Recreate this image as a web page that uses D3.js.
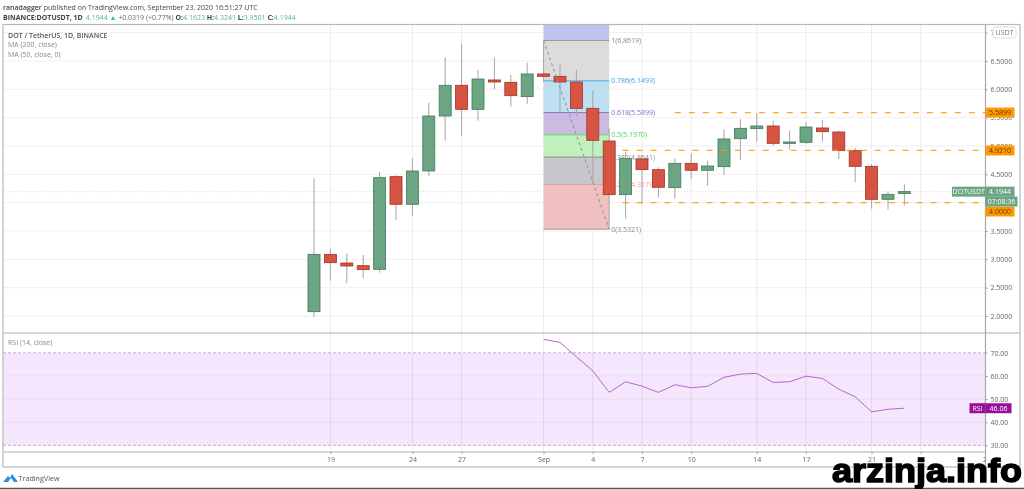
<!DOCTYPE html>
<html>
<head>
<meta charset="utf-8">
<script src="https://cdn.jsdelivr.net/npm/d3@7"></script>
<style>
html, body { margin: 0; padding: 0; background: #fff; }
svg { display: block; font-family: "Open Sans", sans-serif; }
</style>
</head>
<body>
<div id="chart"></div>
<script>
var dates = ['2020-08-18', '2020-08-19', '2020-08-20', '2020-08-21', '2020-08-22', '2020-08-23', '2020-08-24', '2020-08-25',
    '2020-08-26', '2020-08-27', '2020-08-28', '2020-08-29', '2020-08-30', '2020-08-31', '2020-09-01', '2020-09-02',
    '2020-09-03', '2020-09-04', '2020-09-05', '2020-09-06', '2020-09-07', '2020-09-08', '2020-09-09', '2020-09-10',
    '2020-09-11', '2020-09-12', '2020-09-13', '2020-09-14', '2020-09-15', '2020-09-16', '2020-09-17', '2020-09-18',
    '2020-09-19', '2020-09-20', '2020-09-21', '2020-09-22', '2020-09-23'];
var opens = [2.076, 3.088, 2.935, 2.888, 2.824, 4.459, 3.971, 4.559, 5.529, 6.071, 5.647, 6.165, 6.124, 5.871, 6.271, 6.229,
    6.129, 5.665, 5.088, 4.141, 4.771, 4.582, 4.265, 4.694, 4.571, 4.635, 5.129, 5.306, 5.353, 5.047, 5.065, 5.318,
    5.247, 4.918, 4.641, 4.059, 4.1623];
var highs = [4.429, 3.194, 3.106, 3.076, 4.547, 4.482, 4.782, 5.765, 6.565, 6.800, 6.341, 6.559, 6.253, 6.471, 6.8619, 6.441,
    6.341, 5.988, 5.312, 4.900, 4.840, 4.624, 4.782, 4.871, 4.741, 5.294, 5.470, 5.576, 5.441, 5.270, 5.418, 5.459,
    5.270, 4.965, 4.682, 4.200, 4.3241];
var lows = [1.988, 2.624, 2.576, 2.665, 2.765, 3.694, 3.765, 4.471, 5.094, 5.182, 5.447, 6.000, 5.694, 5.741, 6.130, 5.576,
    5.529, 4.340, 3.5321, 3.724, 3.988, 4.094, 4.071, 4.418, 4.300, 4.488, 4.753, 5.076, 5.006, 4.940, 5.035, 5.076,
    4.770, 4.359, 3.894, 3.882, 3.9501];
var closes = [3.088, 2.941, 2.882, 2.818, 4.441, 3.971, 4.559, 5.529, 6.071, 5.647, 6.182, 6.129, 5.888, 6.271, 6.229, 6.129,
    5.665, 5.100, 4.141, 4.776, 4.582, 4.271, 4.694, 4.571, 4.647, 5.124, 5.312, 5.353, 5.047, 5.071, 5.335, 5.253,
    4.918, 4.641, 4.059, 4.147, 4.1944];

var rsiDates = dates.slice(14);
var rsiValues = [75.8, 74.5, 68.3, 62.2, 52.9, 57.5, 55.6, 52.9, 56.2, 54.9, 55.5, 59.4, 60.8, 61.1, 57.2, 57.5, 59.9, 58.9,
    54.3, 51.0, 44.5, 45.6, 46.06];

var timeTickDates = ['2020-08-19', '2020-08-24', '2020-08-27', '2020-09-01', '2020-09-04', '2020-09-07', '2020-09-10',
    '2020-09-14', '2020-09-17', '2020-09-21', '2020-09-24', '2020-09-28'];
var timeTickLabels = ['19', '24', '27', 'Sep', '4', '7', '10', '14', '17', '21', '24', '28'];
var priceTicks = [2, 2.5, 3, 3.5, 4, 4.5, 5, 5.5, 6, 6.5, 7];
var rsiTicks = [30, 40, 50, 60, 70];

var fibRatios = ['1', '0.786', '0.618', '0.5', '0.382', '0.236', '0'];
var fibPrices = [6.8619, 6.1493, 5.5899, 5.1970, 4.8041, 4.3179, 3.5321];
var fibLineColors = ['#9a9a9a', '#4aa8e0', '#8f72c9', '#5fd35f', '#8a8a8a', '#e59a9a', '#9a9a9a'];
var fibFills = ['#dcdcdc', '#bfdff2', '#cbbbe0', '#c0f0bc', '#c8c8cc', '#f0c0c0'];
var fibTextColors = ['#888', '#3f9fd8', '#8a6cc4', '#55d155', '#888', '#ef9a9a', '#888'];

var levelPrices = [5.5899, 4.9210, 4.0000];
var levelStarts = ['2020-09-09', '2020-09-06', '2020-09-06'];

var width = 1024, height = 489;
var paneLeft = 3, paneRight = 985.5, outer = 1020, paneTop = 24.5, sep = 333, rsiBottom = 452, paneBottom = 467;
var green = '#6ba583', greenDark = '#3f7a58', red = '#d75442', redDark = '#a03425';
var orange = '#ff9800';
var parse = d3.utcParse('%Y-%m-%d');

var x = d3.scaleUtc().domain([parse(dates[0]), parse(dates[dates.length - 1])]).range([314, 904.4]);
var y = d3.scaleLinear().domain([2, 7]).range([316, 32.65]);
var yRsi = d3.scaleLinear().domain([30, 70]).range([445.4, 352.8]);

var page = d3.select('#chart').append('svg').attr('width', width).attr('height', height);
// the reference is a soft, resampled screenshot
var svg = page.append('g').style('filter', 'blur(0.35px)');
var defs = svg.append('defs');
defs.append('clipPath').attr('id', 'main').append('rect')
    .attr('x', paneLeft).attr('y', paneTop).attr('width', paneRight - paneLeft).attr('height', sep - paneTop);
defs.append('clipPath').attr('id', 'rsi').append('rect')
    .attr('x', paneLeft).attr('y', sep).attr('width', paneRight - paneLeft).attr('height', rsiBottom - sep);
defs.append('clipPath').attr('id', 'time').append('rect')
    .attr('x', paneLeft).attr('y', rsiBottom).attr('width', paneRight - paneLeft).attr('height', paneBottom - rsiBottom);

// header
var head = svg.append('g').attr('font-size', 7).attr('fill', '#444');
var line1 = head.append('text').attr('x', 3).attr('y', 9.5);
line1.append('tspan').attr('font-weight', 600).text('ranadagger');
line1.append('tspan').text(' published on TradingView.com, September 23, 2020 16:51:27 UTC');
var line2 = head.append('text').attr('x', 3).attr('y', 19.5);
line2.append('tspan').attr('font-weight', 700).text('BINANCE:DOTUSDT, 1D');
line2.append('tspan').attr('dx', 3).attr('fill', '#53b987').text('4.1944 \u25B2 ');
line2.append('tspan').attr('fill', '#666').text('+0.0319 (+0.77%) ');
[['O:', '4.1623'], ['H:', '4.3241'], ['L:', '3.9501'], ['C:', '4.1944']].forEach(function (p) {
    line2.append('tspan').attr('font-weight', 700).text(p[0]);
    line2.append('tspan').attr('fill', '#53b987').text(p[1] + ' ');
});

// main pane
var main = svg.append('g').attr('clip-path', 'url(#main)');

main.append('g').selectAll('line').data(priceTicks).join('line')
    .attr('x1', paneLeft).attr('x2', paneRight)
    .attr('y1', function (d) { return y(d); }).attr('y2', function (d) { return y(d); })
    .attr('stroke', '#efefef');
main.append('g').selectAll('line').data(timeTickDates).join('line')
    .attr('x1', function (d) { return x(parse(d)); }).attr('x2', function (d) { return x(parse(d)); })
    .attr('y1', paneTop).attr('y2', sep)
    .attr('stroke', '#ececec');

// fib retracement
var fibX0 = x(parse('2020-09-01')), fibX1 = x(parse('2020-09-05'));
var fib = main.append('g');
fib.append('rect')
    .attr('x', fibX0).attr('y', paneTop).attr('width', fibX1 - fibX0).attr('height', y(fibPrices[0]) - paneTop)
    .attr('fill', '#c4c2ef');
fib.selectAll('rect.zone').data(fibFills).join('rect')
    .attr('class', 'zone')
    .attr('x', fibX0).attr('width', fibX1 - fibX0)
    .attr('y', function (d, i) { return y(fibPrices[i]); })
    .attr('height', function (d, i) { return y(fibPrices[i + 1]) - y(fibPrices[i]); })
    .attr('fill', function (d) { return d; });
fib.selectAll('line').data(fibPrices).join('line')
    .attr('x1', fibX0).attr('x2', fibX1)
    .attr('y1', function (d) { return y(d); }).attr('y2', function (d) { return y(d); })
    .attr('stroke', function (d, i) { return fibLineColors[i]; });
fib.selectAll('text').data(fibPrices).join('text')
    .attr('x', fibX1 + 2).attr('y', function (d) { return y(d) + 2.5; })
    .attr('font-size', 7)
    .attr('fill', function (d, i) { return fibTextColors[i]; })
    .text(function (d, i) { return fibRatios[i] + '(' + d.toFixed(4) + ')'; });

// last price dotted line
main.append('line')
    .attr('x1', paneLeft).attr('x2', paneRight)
    .attr('y1', y(closes[closes.length - 1])).attr('y2', y(closes[closes.length - 1]))
    .attr('stroke', '#d5e0da').attr('stroke-dasharray', '1,2');

// candles
var candles = main.append('g').selectAll('g').data(dates).join('g');
candles.append('line')
    .attr('x1', function (d) { return x(parse(d)); }).attr('x2', function (d) { return x(parse(d)); })
    .attr('y1', function (d, i) { return y(highs[i]); }).attr('y2', function (d, i) { return y(lows[i]); })
    .attr('stroke', '#a6a6a6').attr('stroke-width', 1);
candles.append('rect')
    .attr('x', function (d) { return x(parse(d)) - 6; })
    .attr('width', 12)
    .attr('y', function (d, i) { return y(Math.max(opens[i], closes[i])); })
    .attr('height', function (d, i) { return Math.max(1, Math.abs(y(opens[i]) - y(closes[i]))); })
    .attr('fill', function (d, i) { return closes[i] >= opens[i] ? green : red; })
    .attr('stroke', function (d, i) { return closes[i] >= opens[i] ? greenDark : redDark; })
    .attr('stroke-width', 0.8);

// fib trend line
main.append('line')
    .attr('x1', fibX0).attr('x2', fibX1)
    .attr('y1', y(fibPrices[0])).attr('y2', y(fibPrices[fibPrices.length - 1]))
    .attr('stroke', '#8d8d8d').attr('stroke-dasharray', '3,3');

// horizontal levels
main.append('g').selectAll('line').data(levelPrices).join('line')
    .attr('x1', function (d, i) { return x(parse(levelStarts[i])) - (i === 0 ? 0 : 3); })
    .attr('x2', paneRight)
    .attr('y1', function (d) { return y(d); }).attr('y2', function (d) { return y(d); })
    .attr('stroke', orange).attr('stroke-opacity', 0.85).attr('stroke-width', 1.2).attr('stroke-dasharray', '6,8');

// legend
var legend = svg.append('g').attr('font-size', 7).attr('fill', '#888');
legend.append('text').attr('x', 8).attr('y', 37.5).attr('fill', '#555').attr('font-weight', 600).text('DOT / TetherUS, 1D, BINANCE');
legend.append('text').attr('x', 8).attr('y', 47).text('MA (200, close)');
legend.append('text').attr('x', 8).attr('y', 57).text('MA (50, close, 0)');

// rsi pane
var rsiPane = svg.append('g').attr('clip-path', 'url(#rsi)');
rsiPane.append('rect')
    .attr('x', paneLeft).attr('width', paneRight - paneLeft)
    .attr('y', yRsi(70)).attr('height', yRsi(30) - yRsi(70))
    .attr('fill', '#f4e6fd');
rsiPane.append('g').selectAll('line').data(rsiTicks).join('line')
    .attr('x1', paneLeft).attr('x2', paneRight)
    .attr('y1', function (d) { return yRsi(d); }).attr('y2', function (d) { return yRsi(d); })
    .attr('stroke', function (d) { return d === 30 || d === 70 ? '#c6b4cf' : '#e8dcef'; })
    .attr('stroke-dasharray', function (d) { return d === 30 || d === 70 ? '3,2' : null; });
rsiPane.append('g').selectAll('line').data(timeTickDates).join('line')
    .attr('x1', function (d) { return x(parse(d)); }).attr('x2', function (d) { return x(parse(d)); })
    .attr('y1', sep).attr('y2', rsiBottom)
    .attr('stroke', '#000').attr('stroke-opacity', 0.07);

var rsiLine = d3.line()
    .x(function (d, i) { return x(parse(rsiDates[i])); })
    .y(function (d) { return yRsi(d); });
rsiPane.append('path')
    .attr('d', rsiLine(rsiValues))
    .attr('fill', 'none').attr('stroke', '#b565cf').attr('stroke-width', 1);
svg.append('text').attr('x', 8).attr('y', 345).attr('font-size', 7).attr('fill', '#888').text('RSI (14, close)');

// frame
var frame = svg.append('g').attr('stroke', '#b8b8b8').attr('fill', 'none');
frame.append('rect').attr('x', paneLeft).attr('y', paneTop).attr('width', outer - paneLeft).attr('height', paneBottom - paneTop).attr('stroke-width', 1.2);
frame.append('line').attr('x1', paneLeft).attr('x2', outer).attr('y1', sep).attr('y2', sep).attr('stroke', '#c8c8c8').attr('stroke-width', 1.4);
frame.append('line').attr('x1', paneLeft).attr('x2', paneRight).attr('y1', rsiBottom).attr('y2', rsiBottom).attr('stroke', '#c8c8c8').attr('stroke-width', 1.4);
frame.append('line').attr('x1', paneRight).attr('x2', paneRight).attr('y1', paneTop).attr('y2', paneBottom).attr('stroke', '#a8a8a8').attr('stroke-width', 1.2);

// axes
function styleAxis(g) {
    g.select('.domain').remove();
    g.selectAll('line').attr('stroke', '#999');
    g.selectAll('text').attr('fill', '#666').attr('font-size', 7).attr('font-family', '"Open Sans", sans-serif');
}
svg.append('g').attr('transform', 'translate(' + paneRight + ',0)')
    .call(d3.axisRight(y).tickValues(priceTicks).tickFormat(d3.format('.4f')).tickSize(2).tickPadding(3))
    .call(styleAxis);
svg.append('g').attr('transform', 'translate(' + paneRight + ',0)')
    .call(d3.axisRight(yRsi).tickValues(rsiTicks).tickFormat(d3.format('.2f')).tickSize(2).tickPadding(3))
    .call(styleAxis);
svg.append('g').attr('clip-path', 'url(#time)')
    .append('g').attr('transform', 'translate(0,' + rsiBottom + ')')
    .call(d3.axisBottom(x).tickValues(timeTickDates.map(parse))
        .tickFormat(function (d, i) { return timeTickLabels[i]; }).tickSize(2).tickPadding(3))
    .call(styleAxis);

// axis badges
function badge(x0, w, cy, fill, label, color) {
    var g = svg.append('g');
    g.append('rect').attr('x', x0).attr('y', cy - 5).attr('width', w).attr('height', 10).attr('fill', fill);
    g.append('text').attr('x', x0 + w / 2).attr('y', cy + 2.6).attr('text-anchor', 'middle')
        .attr('font-size', 7).attr('fill', color).text(label);
}
badge(paneRight, 29, y(levelPrices[0]), orange, '5.5899', '#5c3b00');
badge(paneRight, 29, y(levelPrices[1]), orange, '4.9210', '#5c3b00');
badge(paneRight, 29, 211.5, orange, '4.0000', '#5c3b00');
badge(952, 33.5, y(closes[closes.length - 1]), green, 'DOTUSDT', '#fff');
badge(paneRight, 29, y(closes[closes.length - 1]), green, '4.1944', '#fff');
badge(paneRight, 32, 201.5, green, '07:08:36', '#fff');
badge(969.5, 16, yRsi(rsiValues[rsiValues.length - 1]), '#990f99', 'RSI', '#fff');
badge(paneRight, 26, yRsi(rsiValues[rsiValues.length - 1]), '#990f99', rsiValues[rsiValues.length - 1].toFixed(2), '#fff');

// currency tag
svg.append('rect').attr('x', 993).attr('y', 27).attr('width', 23).attr('height', 11).attr('rx', 2)
    .attr('fill', '#fff').attr('stroke', '#ddd');
svg.append('text').attr('x', 1004.5).attr('y', 35).attr('text-anchor', 'middle').attr('font-size', 7).attr('fill', '#777').text('USDT');

// footer
var logo = svg.append('g').attr('fill', '#2f8fd8');
logo.append('path').attr('d', 'M3 482 L8 476 L10 478 L12 474 L18 482 L14 482 L11 478 L8 482 Z');
svg.append('text').attr('x', 18.5).attr('y', 481).attr('font-size', 7.2).attr('fill', '#555').text('TradingView');
svg.append('line').attr('x1', 0).attr('x2', width).attr('y1', 488.3).attr('y2', 488.3).attr('stroke', '#555').attr('stroke-width', 1.2);

// site watermark
page.append('text').attr('x', 832).attr('y', 482)
    .attr('font-family', '"Liberation Sans", Arial, sans-serif')
    .attr('font-size', 33).attr('font-weight', 700).attr('fill', '#000')
    .attr('stroke', '#000').attr('stroke-width', 1.5)
    .attr('textLength', 190).attr('lengthAdjust', 'spacingAndGlyphs')
    .text('arzinja.info');
</script>
</body>
</html>
